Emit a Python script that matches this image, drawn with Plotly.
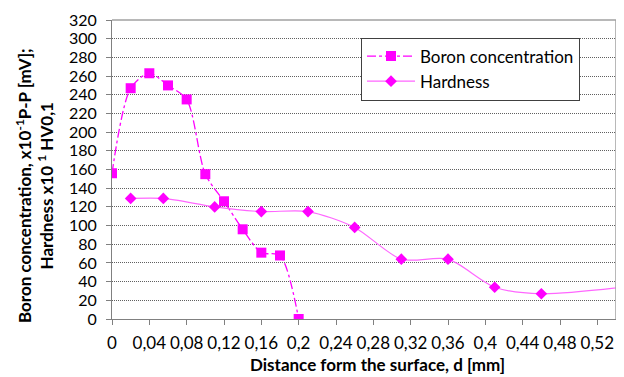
import plotly.graph_objects as go

# Data
boron_x = [0, 0.02, 0.04, 0.06, 0.08, 0.10, 0.12, 0.14, 0.16, 0.18, 0.20]
boron_y = [156, 247, 263, 250, 235, 155, 126, 96, 71, 68, 0]

hard_x = [0.02, 0.055, 0.11, 0.16, 0.21, 0.26, 0.31, 0.36, 0.41, 0.46, 0.58]
hard_y = [129, 129, 120, 115, 115, 98, 64, 64, 34, 27, 38]

x_tickvals = [0, 0.04, 0.08, 0.12, 0.16, 0.20, 0.24, 0.28, 0.32, 0.36, 0.40, 0.44, 0.48, 0.52]
x_ticktext = ["0", "0,04", "0,08", "0,12", "0,16", "0,2", "0,24", "0,28", "0,32", "0,36",
              "0,4", "0,44", "0,48", "0,52"]
y_tickvals = list(range(0, 321, 20))

FONT = "Lato"
OFF = 8  # page body margin offsets the figure by 8px
W, H = 624 - OFF, 377 - OFF
L, T = 112 - OFF, 20 - OFF
pw, ph = 504, 299
R, B = W - L - pw, H - T - ph


def px_x(p):  # page pixel -> paper x
    return (p - OFF - L) / pw


def px_y(p):  # page pixel -> paper y
    return (T + ph - (p - OFF)) / ph


fig = go.Figure()
fig.add_trace(go.Scatter(
    x=boron_x, y=boron_y, name="Boron concentration", mode="lines+markers",
    line=dict(color="#FF00FF", width=1.3, dash="dashdot", shape="spline", smoothing=0.8),
    marker=dict(symbol="square", size=10, color="#FF00FF"),
))
fig.add_trace(go.Scatter(
    x=hard_x, y=hard_y, name="Hardness", mode="lines+markers",
    line=dict(color="#FF66FF", width=1.2, shape="spline", smoothing=0.8),
    marker=dict(symbol="diamond", size=9, color="#FF00FF"),
))

fig.update_layout(
    width=W, height=H,
    margin=dict(l=L, r=R, t=T, b=B, pad=0, autoexpand=False),
    paper_bgcolor="white", plot_bgcolor="white",
    font=dict(family=FONT, size=17, color="#000000"),
    showlegend=True,
    legend=dict(
        x=px_x(361), y=px_y(69), xanchor="left", yanchor="middle",
        bgcolor="white", bordercolor="#404040", borderwidth=1,
        font=dict(family=FONT, size=17), tracegroupgap=0,
        itemwidth=48, itemsizing="trace",
    ),
    xaxis=dict(
        range=[0, 0.54], tickvals=x_tickvals, ticktext=x_ticktext,
        showgrid=False, zeroline=False, automargin=False,
        showline=True, linecolor="#808080", linewidth=1,
        ticks="outside", ticklen=5, tickcolor="#808080",
        ticklabelstandoff=4, tickfont=dict(size=17),
    ),
    yaxis=dict(
        range=[0, 320], tickvals=y_tickvals, automargin=False,
        showgrid=True, gridcolor="#606060", gridwidth=1, griddash="1px,1px",
        zeroline=False,
        showline=True, linecolor="#808080", linewidth=1,
        ticks="outside", ticklen=5, tickcolor="#808080",
        ticklabelstandoff=6, tickfont=dict(size=16),
    ),
    shapes=[
        dict(type="line", xref="paper", yref="paper", x0=0, x1=1, y0=1, y1=1,
             line=dict(color="#A0A0A0", width=1.5), layer="above"),
        dict(type="line", xref="paper", yref="paper", x0=1, x1=1, y0=0, y1=1,
             line=dict(color="#A0A0A0", width=1.5), layer="above"),
    ],
    annotations=[
        dict(text="<b>Boron concentration, x10<sup>-1</sup>P-P [mV];<br>Hardness x10 <sup>1</sup> HV0,1</b>",
             xref="paper", yref="paper", x=px_x(34), y=px_y(186),
             xanchor="center", yanchor="middle", textangle=-90, showarrow=False,
             font=dict(family=FONT, size=17)),
        dict(text="<b>Distance form the surface, d [mm]</b>",
             xref="paper", yref="paper", x=px_x(377), y=px_y(364),
             xanchor="center", yanchor="middle", showarrow=False,
             font=dict(family=FONT, size=17)),
    ],
)

fig.write_html("out.html")
